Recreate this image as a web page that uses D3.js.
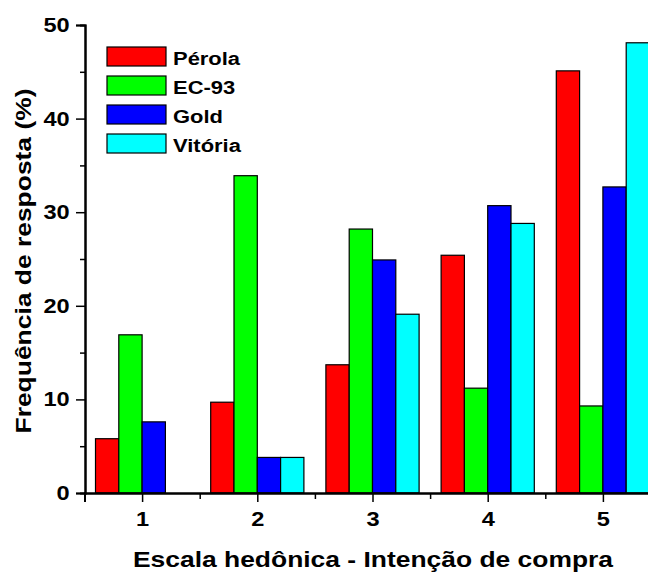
<!DOCTYPE html>
<html>
<head>
<meta charset="utf-8">
<script src="https://cdn.jsdelivr.net/npm/d3@7"></script>
<style>
  body { margin: 0; background: #fff; }
  svg text { font-family: "Liberation Sans", Arial, sans-serif; font-weight: bold; fill: #000; }
  .axis text { font-size: 20px; }
</style>
</head>
<body>
<div id="chart"></div>
<script>
var categories = [1, 2, 3, 4, 5];
var seriesNames = ['Pérola', 'EC-93', 'Gold', 'Vitória'];
var perola = [5.8, 9.7, 13.7, 25.4, 45.1];
var ec93 = [16.9, 33.9, 28.2, 11.2, 9.3];
var gold = [7.6, 3.8, 24.9, 30.7, 32.7];
var vitoria = [0, 3.8, 19.1, 28.8, 48.1];
var yTicks = [0, 10, 20, 30, 40, 50];
var yMinorTicks = [5, 15, 25, 35, 45];
var xMinorTicks = [0.5, 1.5, 2.5, 3.5, 4.5];

var seriesValues = [perola, ec93, gold, vitoria];
var colors = ['#ff0000', '#00ff00', '#0000ff', '#00ffff'];
var stretch = 1.18; // the original lettering is wider than Arial

var svg = d3.select('#chart').append('svg').attr('width', 648).attr('height', 574);

var xScale = d3.scaleLinear().domain([0.5, 5.5]).range([84.5, 660.5]);
var yScale = d3.scaleLinear().domain([0, 50]).range([493, 25]);

var inner = d3.scaleBand()
	.domain(seriesNames)
	.range([-46.6, 46.6]);

// bars
seriesNames.forEach(function(name, i) {
	svg.append('g')
		.selectAll('rect')
		.data(seriesValues[i])
		.enter()
		.append('rect')
		.attr('x', function(d, j) { return xScale(categories[j]) + inner(name); })
		.attr('y', function(d) { return yScale(d); })
		.attr('width', inner.bandwidth())
		.attr('height', function(d) { return yScale(0) - yScale(d); })
		.attr('fill', colors[i])
		.attr('stroke', function(d) { return d > 0 ? '#000' : 'none'; })
		.attr('stroke-width', 1.2);
});

// y axis
var yAxis = d3.axisLeft(yScale).tickValues(yTicks).tickSize(9).tickPadding(4);
svg.append('g').attr('class', 'axis').attr('transform', 'translate(85,0)').call(yAxis);
svg.append('g').attr('transform', 'translate(85,0)')
	.call(d3.axisLeft(yScale).tickValues(yMinorTicks).tickSize(5).tickFormat(''));

// x axis
var xAxis = d3.axisBottom(xScale).tickValues(categories).tickSize(9).tickPadding(10).tickFormat(d3.format('d'));
svg.append('g').attr('class', 'axis').attr('transform', 'translate(0,493)').call(xAxis);
svg.append('g').attr('transform', 'translate(0,493)')
	.call(d3.axisBottom(xScale).tickValues(xMinorTicks).tickSize(6).tickFormat(''));

svg.selectAll('.axis').attr('font-size', 20).attr('font-family', null);
svg.selectAll('.domain').attr('stroke', '#000').attr('stroke-width', 2);
svg.selectAll('.tick line').attr('stroke', '#000').attr('stroke-width', 1.5);
svg.selectAll('.axis .tick text')
	.attr('font-size', 20)
	.attr('transform', 'scale(' + stretch + ',1)');

// axis titles
svg.append('text')
	.attr('transform', 'translate(373,567) scale(' + stretch + ',1)')
	.attr('text-anchor', 'middle')
	.style('font-size', '22.4px')
	.text('Escala hedônica - Intenção de compra');

svg.append('text')
	.attr('transform', 'translate(31,261) rotate(-90) scale(' + stretch + ',1)')
	.attr('text-anchor', 'middle')
	.style('font-size', '22.4px')
	.text('Frequência de resposta (%)');

// legend
var legend = svg.append('g').attr('transform', 'translate(107,47)');
seriesNames.forEach(function(name, i) {
	var g = legend.append('g').attr('transform', 'translate(0,' + (i * 29) + ')');
	g.append('rect')
		.attr('width', 59)
		.attr('height', 19)
		.attr('fill', colors[i])
		.attr('stroke', '#000')
		.attr('stroke-width', 1.2);
	g.append('text')
		.attr('transform', 'translate(66,18) scale(' + stretch + ',1)')
		.style('font-size', '18.6px')
		.text(name);
});
</script>
</body>
</html>
